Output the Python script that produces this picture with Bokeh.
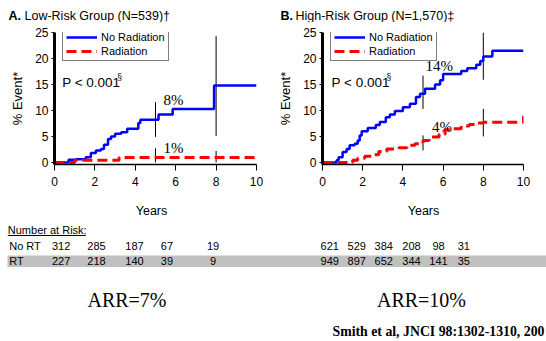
from bokeh.plotting import figure
from bokeh.layouts import column, row
from bokeh.models import Range1d, FixedTicker, Legend, LegendItem
from bokeh.core.properties import value
from bokeh.embed import file_html
from bokeh.resources import INLINE

# ---------------- data ----------------
year_ticks = [0, 2, 4, 6, 8, 10]
pct_ticks = [0, 5, 10, 15, 20, 25]

# Panel A: Low-risk group
a_norad_x = [0, 0.7, 1.05, 1.55, 1.8, 2.05, 2.3, 2.45, 2.65, 2.8, 3.0, 3.3, 3.6, 4.15, 4.25, 5.15, 5.85, 7.9, 10]
a_norad_y = [0, 0.5, 0.6, 1.0, 1.8, 2.3, 2.6, 3.4, 4.5, 5.0, 5.5, 5.8, 6.5, 7.6, 8.2, 9.2, 10.3, 14.8, 14.8]
a_rad_x = [0, 1.0, 3.2, 10]
a_rad_y = [0, 0.4, 0.95, 0.95]
a_mark_x = [5, 5, 8, 8]
a_mark_lo = [4.9, 0, 5.1, 0]
a_mark_hi = [11.6, 2.7, 24.3, 2.2]

# Panel B: High-risk group
b_norad_x = [0, 0.7, 0.8, 1.0, 1.2, 1.35, 1.6, 1.75, 1.85, 1.95, 2.25, 2.65, 2.85, 3.15, 3.35, 3.6, 4.0,
             4.35, 4.65, 4.85, 5.1, 5.6, 5.85, 6.0, 6.9, 7.2, 7.65, 7.85, 8.0, 8.45, 10]
b_norad_y = [0, 0.4, 1.0, 2.0, 2.6, 3.3, 3.6, 4.2, 5.2, 6.0, 6.6, 7.2, 7.8, 8.7, 9.2, 9.9, 10.6,
             11.3, 12.6, 13.2, 14.2, 15.0, 15.8, 17.0, 17.6, 18.1, 18.8, 19.5, 20.4, 21.5, 21.5]
b_rad_x = [0, 1.5, 1.75, 2.1, 2.45, 2.8, 3.2, 3.8, 4.2, 4.6, 5.0, 5.3, 5.8, 6.1, 6.4, 6.9, 7.3, 7.6, 8.0, 10]
b_rad_y = [0, 0.4, 0.8, 1.2, 1.5, 2.1, 2.6, 2.8, 3.3, 3.6, 4.2, 4.9, 5.4, 6.3, 6.5, 7.0, 7.3, 7.6, 7.75, 9.0]
b_mark_x = [5, 5, 8, 8]
b_mark_lo = [10.3, 2.3, 15.9, 5.0]
b_mark_hi = [16.7, 5.2, 25, 10.3]

# Number at risk
risk_a_nort = [312, 285, 187, 67, 19]
risk_a_rt = [227, 218, 140, 39, 9]
risk_b_nort = [621, 529, 384, 208, 98, 31]
risk_b_rt = [949, 897, 652, 344, 141, 35]

SANS = "Liberation Sans"
SERIF = "Liberation Serif"
BLUE = "#0000ff"
RED = "#ff0000"


def panel(nx, ny, rx, ry, mx, mlo, mhi, left, right, annots, pval_pos):
    p = figure(width=273, height=178, x_range=Range1d(0, 10), y_range=Range1d(-0.4, 25),
               output_backend="svg", toolbar_location=None,
               min_border_left=left, min_border_right=right,
               min_border_top=10, min_border_bottom=36)
    p.grid.visible = False
    p.outline_line_color = None
    p.background_fill_color = "white"
    p.border_fill_color = "white"

    xa = p.xaxis[0]
    xa.ticker = FixedTicker(ticks=year_ticks)
    xa.axis_line_width = 1.5
    xa.axis_line_color = "black"
    xa.major_tick_line_color = "black"
    xa.major_tick_out = 6
    xa.major_tick_in = 0
    xa.minor_tick_line_color = None
    xa.major_label_standoff = 6
    xa.major_label_text_font = SANS
    xa.major_label_text_font_size = "12px"
    xa.major_label_text_color = "black"

    ya = p.yaxis[0]
    ya.ticker = FixedTicker(ticks=pct_ticks)
    ya.axis_line_width = 3
    ya.axis_line_color = "black"
    ya.major_tick_line_color = "black"
    ya.major_tick_out = 3
    ya.major_tick_in = 0
    ya.minor_tick_line_color = None
    ya.major_label_standoff = 3
    ya.major_label_text_font = SANS
    ya.major_label_text_font_size = "12px"
    ya.major_label_text_color = "black"
    ya.axis_label = "% Event*"
    ya.axis_label_text_font = SANS
    ya.axis_label_text_font_size = "13px"
    ya.axis_label_text_font_style = "normal"
    ya.axis_label_text_color = "black"
    ya.axis_label_standoff = 7

    p.segment(x0=mx, y0=mlo, x1=mx, y1=mhi, line_color="black", line_width=1)
    rb = p.step(nx, ny, mode="after", line_color=BLUE, line_width=2.5)
    rr = p.step(rx, ry, mode="after", line_color=RED, line_width=3, line_dash="10 5")

    for (tx, ty, t) in annots:
        p.text(x=[tx], y=[ty], text=[t], text_font=value(SERIF), text_font_size="15px",
               text_baseline="middle", text_align="left", text_color="black")

    px, py = pval_pos
    p.text(x=[px], y=[py], text=["P < 0.001"], text_font=value(SANS), text_font_size="13.5px",
           text_baseline="middle", text_align="left", text_color="black")
    p.text(x=[px], y=[py], text=["§"], text_font=value(SANS), text_font_size="8.5px",
           text_baseline="middle", text_align="left", text_color="black",
           x_offset=55, y_offset=-5)

    leg = Legend(items=[LegendItem(label="No Radiation", renderers=[rb]),
                        LegendItem(label="Radiation", renderers=[rr])],
                 location=(8, 103), margin=0, padding=3, spacing=2,
                 glyph_width=31, glyph_height=12, label_height=12, label_standoff=4,
                 label_text_font=SANS, label_text_font_size="11px", label_text_color="black",
                 border_line_color="black", border_line_width=1,
                 background_fill_color="white", background_fill_alpha=1)
    p.add_layout(leg)
    return p


pA = panel(a_norad_x, a_norad_y, a_rad_x, a_rad_y, a_mark_x, a_mark_lo, a_mark_hi,
           54, 17, [(5.4, 12.1, "8%"), (5.4, 2.7, "1%")], (0.38, 15.4))
pB = panel(b_norad_x, b_norad_y, b_rad_x, b_rad_y, b_mark_x, b_mark_lo, b_mark_hi,
           49, 23, [(5.13, 18.5, "14%"), (5.45, 6.9, "4%")], (0.45, 15.4))

# ---------------- title strip ----------------
def blank(h):
    f = figure(width=546, height=h, x_range=Range1d(0, 546), y_range=Range1d(h, 0),
               output_backend="svg", toolbar_location=None, min_border=0)
    f.axis.visible = False
    f.grid.visible = False
    f.outline_line_color = None
    f.background_fill_color = "white"
    f.border_fill_color = "white"
    return f

pt = blank(22)
pt.text(x=[8, 280], y=[15, 15], text=["A.", "B."], text_font=value(SANS), text_font_size="12.5px",
        text_font_style="bold", text_baseline="middle", text_align="left", text_color="black")
pt.text(x=[24, 295], y=[15, 15], text=["Low-Risk Group (N=539)†", "High-Risk Group (N=1,570)‡"],
        text_font=value(SANS), text_font_size="12.5px",
        text_baseline="middle", text_align="left", text_color="black")

# ---------------- bottom strip ----------------
pb = blank(141)
pb.text(x=[151, 423], y=[10.5, 10.5], text=["Years", "Years"], text_font=value(SANS),
        text_font_size="12.5px", text_baseline="middle", text_align="center", text_color="black")
pb.quad(left=[7], right=[546], top=[54.9], bottom=[66.4], fill_color="#c0c0c0", line_color=None)
pb.text(x=[7.3], y=[29.8], text=["Number at Risk:"], text_font=value(SANS), text_font_size="11px",
        text_baseline="middle", text_align="left", text_color="black")
pb.segment(x0=[7.3], y0=[35], x1=[85.3], y1=[35], line_color="black", line_width=1)
pb.text(x=[8.7, 8.7], y=[45.5, 60.5], text=["No RT", "RT"], text_font=value(SANS), text_font_size="11px",
        text_baseline="middle", text_align="left", text_color="black")

col_a = [60.6, 96, 134, 166.4, 212.5]
col_b = [329.2, 356.3, 383.2, 411, 438, 463.3]
for cols, vals, yy in [(col_a, risk_a_nort, 45.5), (col_a, risk_a_rt, 60.5),
                       (col_b, risk_b_nort, 45.5), (col_b, risk_b_rt, 60.5)]:
    pb.text(x=cols, y=[yy] * len(cols), text=[str(v) for v in vals], text_font=value(SANS),
            text_font_size="11px", text_baseline="middle", text_align="center", text_color="black")

pb.text(x=[126.5, 421], y=[99, 99], text=["ARR=7%", "ARR=10%"], text_font=value(SERIF),
        text_font_size="20px", text_baseline="middle", text_align="center", text_color="black")
pb.text(x=[332], y=[131], text=["Smith et al, JNCI 98:1302-1310, 200"], text_font=value(SERIF),
        text_font_size="13.8px", text_font_style="bold", text_baseline="middle", text_align="left",
        text_color="black")

layout = column(pt, row(pA, pB, spacing=0), pb, spacing=0)
open("out.html", "w").write(file_html(layout, INLINE))
